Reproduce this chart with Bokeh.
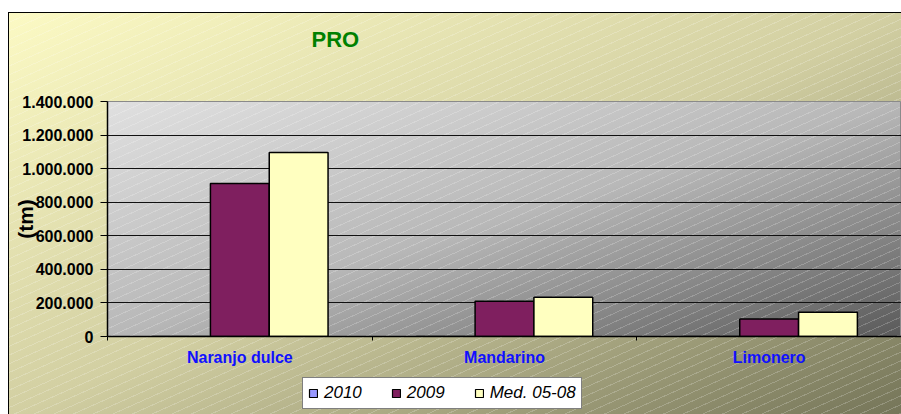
import numpy as np
from bokeh.plotting import figure
from bokeh.layouts import column
from bokeh.models import (Range1d, FixedTicker, Legend, LegendItem, Label,
                          ColumnDataSource)
from bokeh.transform import dodge
from bokeh.embed import file_html
from bokeh.resources import INLINE

# ---------------- data ----------------
categories = ["Naranjo dulce", "Mandarino", "Limonero"]
series_names = ["2010", "2009", "Med. 05-08"]
prod_2010 = [0, 0, 0]
prod_2009 = [912000, 210000, 105000]
prod_med = [1096000, 234000, 145000]
y_ticks = [0, 200000, 400000, 600000, 800000, 1000000, 1200000, 1400000]
y_tick_labels = ["0", "200.000", "400.000", "600.000", "800.000",
                 "1.000.000", "1.200.000", "1.400.000"]
title_visible = "PRO"
y_title = "(tm)"

# ---------------- style / layout ----------------
FONT = "Liberation Sans"
series_colors = ["#9999FF", "#7F1F5F", "#FFFFC0"]
W = 901
T_H = 90                 # title strip height
M_H = 282                # main chart height
L_H = 42                 # legend strip height
FL = 107                 # plot area left (page px); strips' frames align to it
P_TOP, P_BOT = 101, 336  # plot area top / bottom (page px)


def bg_styles(off):
    """CSS backgrounds of the chart box, shifted for a strip starting at page y=off."""
    return {
        "background-color": "white",
        "background-image": ", ".join([
            "linear-gradient(#000000, #000000)",
            "linear-gradient(#000000, #000000)",
            "repeating-linear-gradient(156deg, rgba(255,255,255,0.20) 0px, rgba(255,255,255,0.20) 1px, rgba(255,255,255,0) 1px, rgba(255,255,255,0) 8px)",
            "linear-gradient(to bottom right, #E0E0E0 0%, #B8B8B8 50%, #5A5A5A 100%)",
            "linear-gradient(to bottom right, #FCFAC4 0%, #D2CFA2 50%, #747458 100%)",
        ]),
        "background-position": ", ".join([
            "8px %dpx" % (12 - off), "8px %dpx" % (12 - off), "9px %dpx" % (13 - off),
            "%dpx %dpx" % (FL, P_TOP - off), "8px %dpx" % (12 - off)]),
        "background-size": ", ".join([
            "900px 1px", "1px 1000px", "900px 410px",
            "795px %dpx" % (P_BOT - P_TOP), "895px 406px"]),
        "background-repeat": "no-repeat",
    }


def strip(height, off):
    f = figure(width=W, height=height, output_backend="svg", toolbar_location=None,
               x_axis_type=None, y_axis_type=None,
               x_range=Range1d(0, 1), y_range=Range1d(0, 1),
               min_border_left=0, min_border_right=0,
               min_border_top=0, min_border_bottom=0)
    f.border_fill_color = None
    f.background_fill_color = None
    f.outline_line_color = None
    f.grid.grid_line_color = None
    f.styles = bg_styles(off)
    return f


# ---------------- title strip ----------------
pt = strip(T_H, 0)
pt.add_layout(Label(x=311 - FL, y=T_H - 39, x_units="screen", y_units="screen",
                    text=title_visible, text_font=FONT, text_font_size="22px",
                    text_font_style="bold", text_color="#008000",
                    text_baseline="alphabetic"))

# ---------------- main chart ----------------
p = figure(width=W, height=M_H, output_backend="svg", toolbar_location=None,
           x_range=Range1d(0, len(categories)), y_range=Range1d(0, 1400000),
           min_border_left=FL, min_border_top=P_TOP - T_H,
           min_border_bottom=M_H - (P_BOT - T_H), min_border_right=0)
p.border_fill_color = None
p.background_fill_color = None
p.outline_line_color = "#8A8A8A"
p.outline_line_width = 1
p.styles = bg_styles(T_H)

src = ColumnDataSource(dict(
    xc=[i + 0.5 for i in range(len(categories))],
    v2010=prod_2010, v2009=prod_2009, vmed=prod_med))

bw = 1 / 4.5
for off, col, field in zip([-bw, 0, bw], series_colors, ["v2010", "v2009", "vmed"]):
    p.vbar(x=dodge("xc", off, range=p.x_range), top=field, width=bw,
           source=src, fill_color=col, line_color="black", line_width=1.5)

p.xaxis.ticker = FixedTicker(ticks=[i + 0.5 for i in range(len(categories))],
                             minor_ticks=list(range(len(categories) + 1)))
p.xaxis.major_label_overrides = {i + 0.5: c for i, c in enumerate(categories)}
p.xaxis.major_tick_line_color = None
p.xaxis.major_tick_out = 0
p.xaxis.major_tick_in = 0
p.xaxis.minor_tick_out = 4
p.xaxis.minor_tick_in = 0
p.xaxis.minor_tick_line_color = "black"
p.xaxis.axis_line_color = "black"
p.xaxis.axis_line_width = 1.5
p.xaxis.major_label_standoff = 8
p.xaxis.major_label_text_font = FONT
p.xaxis.major_label_text_font_size = "16px"
p.xaxis.major_label_text_font_style = "bold"
p.xaxis.major_label_text_color = "#1010FF"

p.yaxis.ticker = FixedTicker(ticks=y_ticks)
p.yaxis.major_label_overrides = {t: l for t, l in zip(y_ticks, y_tick_labels)}
p.yaxis.major_tick_out = 7
p.yaxis.major_tick_in = 0
p.yaxis.minor_tick_line_color = None
p.yaxis.major_tick_line_color = "black"
p.yaxis.axis_line_color = "black"
p.yaxis.axis_line_width = 1.5
p.yaxis.major_label_standoff = 7
p.yaxis.major_label_text_font = FONT
p.yaxis.major_label_text_font_size = "16px"
p.yaxis.major_label_text_font_style = "bold"
p.yaxis.major_label_text_color = "black"
p.yaxis.axis_label = y_title
p.yaxis.axis_label_standoff = -18
p.yaxis.axis_label_text_font = FONT
p.yaxis.axis_label_text_font_size = "21px"
p.yaxis.axis_label_text_font_style = "bold"
p.yaxis.axis_label_text_color = "black"

p.xgrid.grid_line_color = None
p.ygrid.grid_line_color = "#111111"
p.ygrid.grid_line_width = 1

# ---------------- legend strip ----------------
pl = strip(L_H, T_H + M_H)
hidden = ColumnDataSource(dict(x=[float("nan")], top=[float("nan")]))
leg_renderers = [pl.vbar(x="x", top="top", width=0.1, source=hidden,
                         fill_color=c, line_color="black", line_width=1.2)
                 for c in series_colors]
legend = Legend(items=[LegendItem(label=n, renderers=[r])
                       for n, r in zip(series_names, leg_renderers)],
                location=(302 - FL, 5), orientation="horizontal",
                glyph_width=10, glyph_height=10, label_standoff=6, spacing=29,
                padding=5, margin=0, label_height=13,
                label_text_font=FONT, label_text_font_size="17px",
                label_text_font_style="italic", label_text_color="black",
                border_line_color="black", border_line_width=1,
                background_fill_color="white", background_fill_alpha=1)
pl.add_layout(legend)

layout = column(pt, p, pl, spacing=0)
open("out.html", "w").write(file_html(layout, INLINE))
